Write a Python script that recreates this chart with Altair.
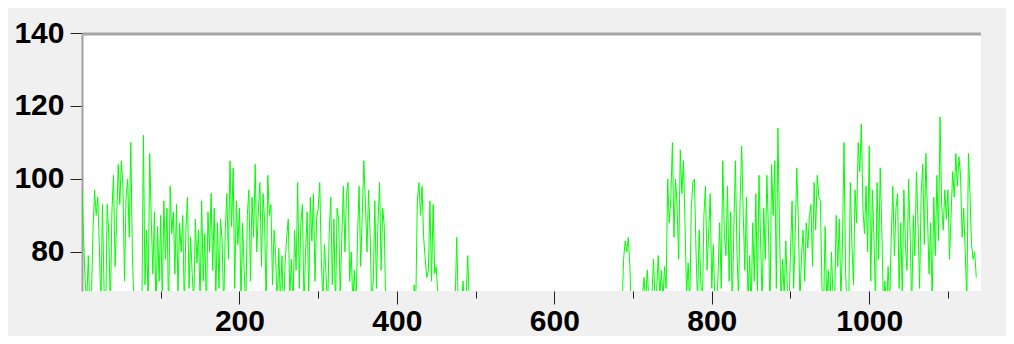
import altair as alt
import pandas as pd

# ---- data (one value every 2 x-units) ----
x_step = 2
green_values = [
    97, 84, 72, 66, 79, 63, 68, 86, 97, 90, 95, 82, 65, 93, 70, 62, 93, 85, 64, 91, 101, 76, 88, 104, 93,
    105, 98, 72, 95, 100, 84, 110, 79, 66, 62, 58, 64, 60, 63, 112, 71, 86, 65, 107, 89, 74, 91, 63, 87, 72,
    90, 66, 94, 78, 92, 62, 98, 85, 91, 74, 93, 68, 88, 80, 90, 64, 86, 95, 70, 84, 74, 65, 89, 77, 86,
    66, 94, 72, 85, 63, 91, 80, 96, 75, 92, 67, 88, 70, 89, 83, 64, 86, 96, 78, 105, 87, 103, 70, 94, 82,
    92, 66, 88, 75, 64, 90, 97, 72, 95, 84, 104, 80, 91, 99, 76, 96, 88, 65, 101, 90, 93, 71, 86, 79, 64,
    81, 66, 79, 63, 77, 84, 89, 68, 78, 64, 86, 75, 99, 70, 88, 93, 65, 80, 91, 67, 95, 83, 96, 72, 89,
    92, 99, 78, 66, 82, 74, 63, 85, 95, 71, 89, 64, 92, 89, 68, 84, 98, 80, 96, 99, 72, 80, 66, 75, 63,
    84, 98, 76, 90, 105, 93, 80, 97, 85, 66, 72, 94, 70, 88, 99, 75, 92, 87, 62, 60, 58, 57, 56, 55, 55,
    55, 54, 55, 56, 55, 54, 55, 56, 58, 60, 62, 71, 66, 94, 99, 90, 98, 84, 78, 73, 75, 94, 72, 93, 74,
    76, 68, 62, 58, 56, 56, 57, 58, 60, 62, 64, 63, 66, 84, 65, 60, 64, 72, 66, 68, 79, 64, 60, 57, 56,
    55, 54, 56, 55, 53, 54, 55, 56, 54, 53, 55, 54, 56, 55, 54, 53, 55, 56, 54, 55, 53, 54, 55, 56, 54,
    54, 55, 53, 54, 56, 55, 54, 53, 55, 54, 56, 55, 54, 53, 55, 56, 54, 55, 53, 54, 55, 56, 54, 55, 53,
    55, 54, 56, 55, 53, 54, 55, 56, 54, 53, 55, 54, 56, 55, 54, 53, 55, 56, 54, 55, 53, 54, 55, 56, 54,
    54, 55, 53, 54, 56, 55, 54, 55, 56, 57, 56, 58, 57, 59, 60, 61, 60, 62, 64, 78, 83, 80, 84, 76, 62,
    60, 58, 60, 62, 64, 66, 68, 73, 66, 75, 67, 69, 68, 78, 66, 70, 79, 68, 75, 67, 76, 70, 100, 88, 95,
    110, 84, 100, 92, 78, 108, 96, 105, 88, 68, 77, 65, 92, 99, 100, 80, 66, 86, 72, 64, 90, 98, 75, 85, 96,
    70, 82, 65, 63, 74, 88, 70, 105, 85, 79, 98, 72, 91, 64, 86, 105, 80, 67, 94, 109, 90, 75, 95, 66, 79,
    64, 88, 72, 96, 68, 101, 83, 66, 92, 78, 101, 86, 64, 104, 90, 105, 70, 114, 87, 66, 78, 68, 83, 70, 64,
    80, 94, 70, 85, 103, 88, 66, 79, 86, 72, 88, 81, 90, 93, 76, 99, 86, 101, 95, 94, 70, 64, 87, 66, 75,
    63, 80, 68, 65, 90, 76, 89, 67, 82, 110, 74, 64, 66, 99, 82, 71, 97, 88, 110, 102, 115, 92, 85, 98, 80,
    109, 72, 97, 84, 66, 99, 78, 103, 86, 65, 72, 64, 76, 66, 84, 98, 79, 92, 96, 70, 88, 68, 97, 82, 75,
    100, 85, 64, 90, 79, 102, 88, 70, 96, 104, 82, 107, 90, 74, 88, 66, 95, 79, 101, 83, 117, 93, 86, 97, 89,
    97, 78, 90, 102, 95, 107, 98, 106, 101, 84, 92, 80, 66, 107, 96, 82, 78, 80, 73,
]
x_values = [i * x_step for i in range(len(green_values))]

y_ticks = [80, 100, 120, 140]
x_ticks = [100, 200, 300, 400, 500, 600, 700, 800, 900, 1000, 1100]
x_domain = [0, 1142]
y_domain = [69.3, 140]

W, H = 899, 258
FONT = "Liberation Sans"
FONT_SIZE = 30

df = pd.DataFrame({"x": x_values, "y": green_values})

line = alt.Chart(df).mark_line(color="#00ff00", strokeWidth=1, clip=True).encode(
    x=alt.X(
        "x:Q",
        scale=alt.Scale(domain=x_domain, nice=False, zero=False),
        axis=alt.Axis(
            values=x_ticks, title=None, grid=False, domain=False, format="d",
            tickSize={"condition": {"test": "datum.value % 200 === 0", "value": 13}, "value": 7},
            tickColor="#222222", tickWidth=1,
            labelExpr="datum.value % 200 === 0 ? datum.label : ''",
            labelFont=FONT, labelFontSize=FONT_SIZE, labelFontWeight="bold", labelColor="black",
            labelPadding=2, labelFlush=False, labelOverlap=False,
        ),
    ),
    y=alt.Y(
        "y:Q",
        scale=alt.Scale(domain=y_domain, nice=False, zero=False),
        axis=alt.Axis(
            values=y_ticks, title=None, grid=False,
            domain=True, domainColor="#a0a0a0", domainWidth=2,
            tickSize=12, tickColor="#222222", tickWidth=1,
            labelFont=FONT, labelFontSize=FONT_SIZE, labelFontWeight="bold", labelColor="black",
            labelPadding=6, labelFlush=False, labelOverlap=False,
        ),
    ),
)

top_border = alt.Chart(pd.DataFrame({"k": [0]})).mark_rule(
    color="#a6a6a6", strokeWidth=3
).encode(x=alt.value(0), x2=alt.value(W), y=alt.value(1))

chart = alt.layer(line, top_border).properties(
    width=W,
    height=H,
    background="#f0f0f0",
    padding={"left": 74, "top": 25, "right": 25, "bottom": 45},
    autosize=alt.AutoSizeParams(type="none"),
).configure_view(fill="white", stroke=None)

chart.save("out.html", embed_options={"renderer": "svg", "actions": False})
